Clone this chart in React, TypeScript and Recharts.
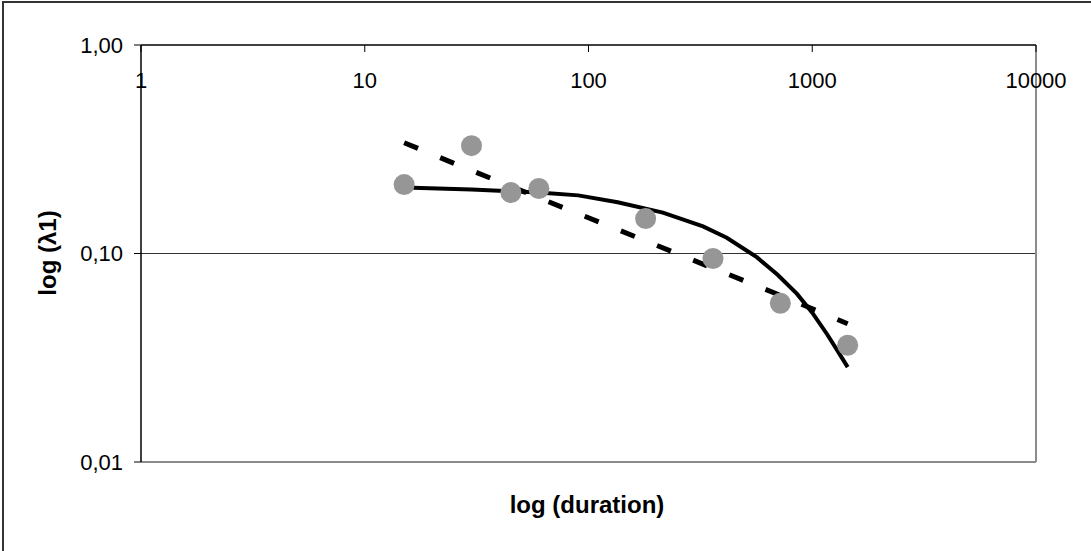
import {
  ComposedChart,
  XAxis,
  YAxis,
  Line,
  Scatter,
  ReferenceLine,
} from "recharts"

type Pt = { x: number; y: number }

// measured decay coefficients per storm duration (minutes)
const durations = [15, 30, 45, 60, 180, 360, 720, 1440]
const lambdaObserved = [0.214, 0.329, 0.196, 0.205, 0.147, 0.0946, 0.0577, 0.0363]

// fitted curve (solid)
const fitDurations = [15, 30, 45, 60, 90, 135, 215, 325, 415, 565, 700, 855, 1000, 1165, 1300, 1440]
const fitLambda = [0.207, 0.203, 0.199, 0.196, 0.19, 0.176, 0.157, 0.135, 0.119, 0.096, 0.079, 0.064, 0.052, 0.041, 0.034, 0.0285]

// power trend (dashed)
const trendDurations = [15, 30, 45, 60, 180, 360, 720, 1440]
const trendLambda = [0.34, 0.25, 0.21, 0.185, 0.115, 0.085, 0.063, 0.046]

const xTicks = [1, 10, 100, 1000, 10000]
const yTicks = [0.01, 0.1, 1]

const zip = (xs: number[], ys: number[]): Pt[] => xs.map((x, i) => ({ x, y: ys[i] }))

const observed = zip(durations, lambdaObserved)
const fitted = zip(fitDurations, fitLambda)
const trend = zip(trendDurations, trendLambda)

const font = "Arial, 'Liberation Sans', sans-serif"

export default function App() {
  return (
    <div
      style={{
        position: "absolute",
        left: 0,
        top: 0,
        width: 1091,
        height: 551,
        background: "#fff",
        overflow: "hidden",
        fontFamily: font,
      }}
    >
      <div
        style={{
          position: "absolute",
          left: 2,
          top: 1,
          width: 1200,
          height: 700,
          borderLeft: "2px solid #333",
          borderTop: "2px solid #333",
        }}
      />
      <ComposedChart
        width={1091}
        height={551}
        margin={{ top: 45, right: 55, bottom: 89, left: 0 }}
        style={{ position: "absolute", left: 0, top: 0 }}
      >
        <XAxis
          xAxisId="x"
          dataKey="x"
          type="number"
          scale="log"
          domain={[1, 10000]}
          ticks={xTicks}
          orientation="top"
          mirror
          allowDataOverflow
          interval={0}
          tickFormatter={(v: number) => String(v)}
          tick={{ fontSize: 22, fill: "#000", fontFamily: font }}
          tickSize={7}
          tickMargin={20}
          stroke="#000"
          axisLine={{ stroke: "#000", strokeWidth: 1.5 }}
          tickLine={{ stroke: "#000" }}
        />
        <YAxis
          yAxisId="y"
          dataKey="y"
          type="number"
          scale="log"
          domain={[0.01, 1]}
          ticks={yTicks}
          allowDataOverflow
          interval={0}
          width={141}
          tickFormatter={(v: number) => v.toFixed(2).replace(".", ",")}
          tick={{ fontSize: 22, fill: "#000", fontFamily: font }}
          tickSize={7}
          tickMargin={11}
          axisLine={{ stroke: "#000", strokeWidth: 1.5 }}
          tickLine={{ stroke: "#000" }}
        />
        <ReferenceLine xAxisId="x" yAxisId="y" y={0.1} stroke="#333" strokeWidth={1} />
        <ReferenceLine xAxisId="x" yAxisId="y" y={0.01} stroke="#8c8c8c" strokeWidth={2} />
        <ReferenceLine xAxisId="x" yAxisId="y" x={10000} stroke="#8c8c8c" strokeWidth={2} />
        <Scatter
          xAxisId="x"
          yAxisId="y"
          data={observed}
          dataKey="y"
          isAnimationActive={false}
          shape={(p: any) => <circle cx={p.cx} cy={p.cy} r={10.5} fill="#969696" />}
        />
        <Line
          xAxisId="x"
          yAxisId="y"
          data={trend}
          dataKey="y"
          type="linear"
          stroke="#000"
          strokeWidth={5}
          strokeDasharray="15 24"
          dot={false}
          activeDot={false}
          isAnimationActive={false}
        />
        <Line
          xAxisId="x"
          yAxisId="y"
          data={fitted}
          dataKey="y"
          type="linear"
          stroke="#000"
          strokeWidth={4}
          dot={false}
          activeDot={false}
          isAnimationActive={false}
        />
      </ComposedChart>
      <div
        style={{
          position: "absolute",
          left: 48,
          top: 253,
          transform: "translate(-50%, -50%) rotate(-90deg)",
          fontSize: 24,
          fontWeight: "bold",
          whiteSpace: "nowrap",
        }}
      >
        log (λ1)
      </div>
      <div
        style={{
          position: "absolute",
          left: 587,
          top: 505,
          transform: "translate(-50%, -50%)",
          fontSize: 24,
          fontWeight: "bold",
          whiteSpace: "nowrap",
        }}
      >
        log (duration)
      </div>
    </div>
  )
}
